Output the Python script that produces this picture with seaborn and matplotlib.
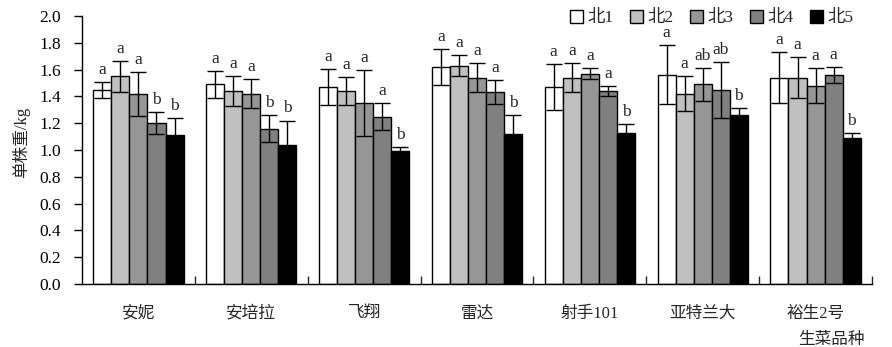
import numpy as np
import pandas as pd
import matplotlib
matplotlib.use("Agg")
import matplotlib.pyplot as plt
import seaborn as sns
from matplotlib.patches import Patch

# ---- data ----
varieties = ["安妮", "安培拉", "飞翔", "雷达", "射手101", "亚特兰大", "裕生2号"]
treatments = ["北1", "北2", "北3", "北4", "北5"]
bei1 = [1.45, 1.49, 1.47, 1.62, 1.47, 1.56, 1.54]
bei2 = [1.55, 1.44, 1.44, 1.63, 1.54, 1.42, 1.54]
bei3 = [1.42, 1.42, 1.35, 1.54, 1.57, 1.49, 1.48]
bei4 = [1.20, 1.16, 1.25, 1.43, 1.44, 1.45, 1.56]
bei5 = [1.11, 1.04, 0.99, 1.12, 1.13, 1.26, 1.09]
err1 = [0.06, 0.10, 0.135, 0.135, 0.17, 0.22, 0.19]
err2 = [0.115, 0.11, 0.105, 0.08, 0.11, 0.13, 0.155]
err3 = [0.165, 0.11, 0.245, 0.11, 0.04, 0.125, 0.13]
err4 = [0.08, 0.10, 0.10, 0.09, 0.04, 0.21, 0.06]
err5 = [0.13, 0.18, 0.035, 0.14, 0.067, 0.05, 0.037]
let1 = ["a", "a", "a", "a", "a", "a", "a"]
let2 = ["a", "a", "a", "a", "a", "a", "a"]
let3 = ["a", "a", "a", "a", "a", "ab", "a"]
let4 = ["b", "b", "a", "a", "a", "ab", "a"]
let5 = ["b", "b", "b", "b", "b", "b", "b"]
yticks = [0.0, 0.2, 0.4, 0.6, 0.8, 1.0, 1.2, 1.4, 1.6, 1.8, 2.0]
ylabel = "单株重/kg"
xlabel = "生菜品种"

means = [bei1, bei2, bei3, bei4, bei5]
errs = [err1, err2, err3, err4, err5]
letters = [let1, let2, let3, let4, let5]
colors = ["#ffffff", "#c0c0c0", "#969696", "#808080", "#000000"]

rows = []
for t, m in zip(treatments, means):
    for v, val in zip(varieties, m):
        rows.append({"variety": v, "treatment": t, "weight": val})
df = pd.DataFrame(rows)

sns.set_style("ticks")
FAM = ["Liberation Serif", "Noto Sans CJK SC"]
plt.rcParams["font.family"] = FAM
plt.rcParams["font.size"] = 12

fig = plt.figure(figsize=(8.92, 3.47), dpi=100)
ax = fig.add_axes([82 / 892, 1 - 284 / 347, 790 / 892, 268 / 347])

sns.barplot(data=df, x="variety", y="weight", hue="treatment", order=varieties,
            hue_order=treatments, palette=colors, errorbar=None, width=0.8,
            edgecolor="black", linewidth=1.0, saturation=1, ax=ax, legend=False)

bar_containers = list(ax.containers)
for ci, cont in enumerate(bar_containers):
    xs = [p.get_x() + p.get_width() / 2 for p in cont.patches]
    hs = [p.get_height() for p in cont.patches]
    ax.errorbar(xs, hs, yerr=errs[ci], fmt="none", ecolor="black",
                elinewidth=1.0, capsize=5.5, capthick=1.0, zorder=5)
    for x, h, e, lab in zip(xs, hs, errs[ci], letters[ci]):
        ax.text(x, h + e + 0.09, lab, ha="center", va="center", fontsize=12.5,
                family=FAM)

ax.set_ylim(0, 2.0)
ax.set_xlim(-0.5, len(varieties) - 0.5)
ax.set_yticks(yticks)
ax.set_yticklabels([f"{v:.1f}" for v in yticks])
ax.set_xlabel("")
ax.set_ylabel("")
ax.tick_params(axis="y", direction="out", length=6, width=1, pad=9,
               labelsize=12.5, colors="black")
ax.tick_params(axis="x", which="major", length=0, pad=15.5, labelsize=12)
ax.set_xticks(np.arange(0.5, len(varieties), 1.0), minor=True)
ax.tick_params(axis="x", which="minor", direction="in", length=6, width=1)
for s in ["top", "right"]:
    ax.spines[s].set_visible(False)
for s in ["left", "bottom"]:
    ax.spines[s].set_linewidth(1.0)
    ax.spines[s].set_color("black")

handles = [Patch(facecolor=c, edgecolor="black", linewidth=1.0) for c in colors]
fig.legend(handles, treatments, loc="center right",
           bbox_to_anchor=(862 / 892, 1 - 18 / 347), ncol=5, frameon=False,
           handlelength=0.75, handleheight=0.75, handletextpad=0.25,
           columnspacing=0.95, borderpad=0, fontsize=12.5)

fig.text(21 / 892, 1 - 142 / 347, ylabel, rotation=90, ha="center",
         va="center", fontsize=12, family=FAM)
fig.text(831 / 892, 1 - 340 / 347, xlabel, ha="center", va="center",
         fontsize=12, family=FAM)

fig.savefig("out.png", dpi=100)
